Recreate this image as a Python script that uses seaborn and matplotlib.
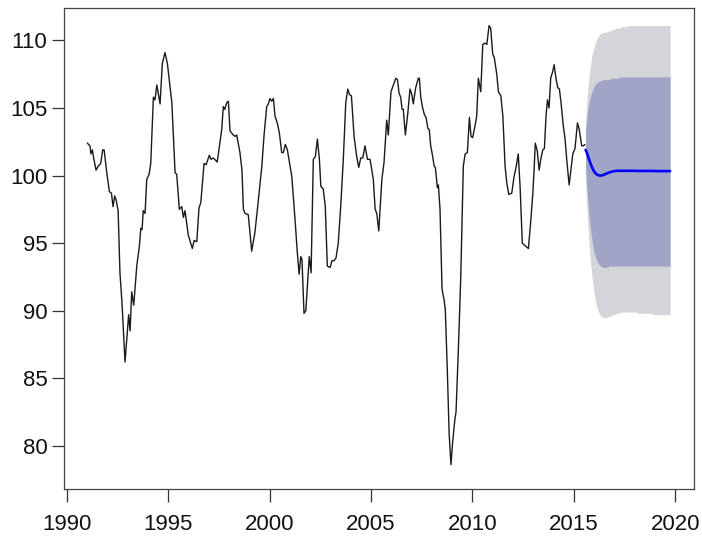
import matplotlib
matplotlib.use("Agg")
import matplotlib.pyplot as plt
import seaborn as sns
import numpy as np

# ---------------- data ----------------
hist_time = [
    1991.00, 1991.13, 1991.18, 1991.25, 1991.30, 1991.43, 1991.54, 1991.66, 1991.76, 1991.83,
    1991.96, 1992.09, 1992.19, 1992.27, 1992.35, 1992.42, 1992.52, 1992.61, 1992.71, 1992.86,
    1993.04, 1993.11, 1993.19, 1993.29, 1993.44, 1993.57, 1993.64, 1993.70, 1993.76, 1993.85,
    1993.93, 1994.05, 1994.13, 1994.26, 1994.34, 1994.43, 1994.59, 1994.70, 1994.83, 1994.95,
    1995.17, 1995.33, 1995.41, 1995.54, 1995.66, 1995.74, 1995.82, 1995.98, 1996.18, 1996.27,
    1996.40, 1996.51, 1996.60, 1996.76, 1996.86, 1997.02, 1997.10, 1997.22, 1997.41, 1997.55,
    1997.63, 1997.71, 1997.78, 1997.88, 1997.96, 1998.04, 1998.20, 1998.29, 1998.37, 1998.53,
    1998.63, 1998.70, 1998.78, 1998.94, 1999.11, 1999.27, 1999.44, 1999.61, 1999.72, 1999.85,
    1999.93, 2000.01, 2000.10, 2000.18, 2000.26, 2000.37, 2000.47, 2000.59, 2000.67, 2000.77,
    2000.87, 2001.00, 2001.09, 2001.25, 2001.36, 2001.45, 2001.53, 2001.59, 2001.69, 2001.78,
    2001.90, 2001.95, 2002.04, 2002.15, 2002.25, 2002.35, 2002.45, 2002.52, 2002.64, 2002.74,
    2002.84, 2002.98, 2003.07, 2003.17, 2003.27, 2003.38, 2003.50, 2003.63, 2003.75, 2003.85,
    2003.93, 2004.03, 2004.16, 2004.29, 2004.39, 2004.49, 2004.59, 2004.70, 2004.82, 2004.95,
    2005.11, 2005.20, 2005.28, 2005.38, 2005.53, 2005.64, 2005.77, 2005.85, 2005.98, 2006.10,
    2006.22, 2006.30, 2006.38, 2006.46, 2006.53, 2006.59, 2006.69, 2006.81, 2006.92, 2007.01,
    2007.08, 2007.20, 2007.33, 2007.38, 2007.45, 2007.53, 2007.63, 2007.71, 2007.80, 2007.87,
    2007.94, 2008.04, 2008.11, 2008.17, 2008.27, 2008.32, 2008.40, 2008.50, 2008.60, 2008.66,
    2008.76, 2008.85, 2008.94, 2009.03, 2009.13, 2009.19, 2009.30, 2009.42, 2009.55, 2009.64,
    2009.75, 2009.85, 2009.93, 2010.01, 2010.13, 2010.21, 2010.29, 2010.41, 2010.51, 2010.62,
    2010.71, 2010.82, 2010.90, 2011.00, 2011.08, 2011.20, 2011.28, 2011.40, 2011.50, 2011.61,
    2011.69, 2011.79, 2011.94, 2012.05, 2012.15, 2012.26, 2012.35, 2012.46, 2012.60, 2012.76,
    2012.88, 2012.98, 2013.05, 2013.10, 2013.20, 2013.29, 2013.37, 2013.47, 2013.55, 2013.63,
    2013.70, 2013.78, 2013.86, 2013.96, 2014.03, 2014.12, 2014.21, 2014.29, 2014.37, 2014.48,
    2014.57, 2014.65, 2014.77, 2014.85, 2014.95, 2015.06, 2015.18, 2015.27, 2015.39, 2015.47,
    2015.55,
]
hist_value = [
    102.4, 102.2, 101.6, 101.9, 101.4, 100.4, 100.7, 100.9, 101.9, 101.9,
    100.2, 98.8, 98.7, 97.7, 98.5, 98.2, 97.4, 92.8, 90.6, 86.2,
    89.7, 88.5, 91.4, 90.4, 93.3, 94.8, 96.1, 96.0, 97.4, 97.2,
    99.7, 100.1, 100.9, 105.8, 105.6, 106.7, 105.3, 108.3, 109.1, 108.3,
    105.4, 100.2, 100.1, 97.5, 97.7, 96.9, 97.4, 95.6, 94.6, 95.2,
    95.1, 97.6, 98.0, 100.9, 100.8, 101.5, 101.2, 101.3, 101.0, 102.5,
    103.4, 105.1, 104.9, 105.4, 105.5, 103.3, 103.0, 102.9, 103.0, 101.7,
    100.4, 97.5, 97.2, 97.1, 94.4, 95.8, 98.2, 100.7, 103.0, 105.1,
    105.3, 105.7, 105.5, 105.7, 104.4, 103.9, 103.2, 101.7, 101.7, 102.3,
    101.9, 100.7, 99.9, 96.7, 94.3, 92.7, 94.0, 93.8, 89.8, 90.0,
    92.8, 94.0, 92.8, 101.2, 101.4, 102.7, 101.2, 99.2, 99.0, 97.7,
    93.3, 93.2, 93.7, 93.7, 93.9, 95.0, 97.7, 101.2, 105.4, 106.4,
    106.0, 105.9, 102.9, 101.4, 100.6, 101.3, 101.3, 102.2, 101.2, 101.2,
    99.7, 97.5, 97.2, 95.9, 99.7, 101.0, 104.1, 103.0, 106.2, 106.7,
    107.2, 107.1, 106.1, 105.8, 104.9, 104.9, 103.0, 104.6, 106.4, 106.0,
    105.3, 106.5, 107.2, 107.2, 105.8, 105.1, 104.5, 104.3, 103.5, 103.4,
    102.2, 101.4, 100.7, 100.6, 99.1, 99.3, 97.5, 91.6, 90.8, 90.1,
    85.6, 80.9, 78.6, 80.4, 81.9, 82.5, 86.9, 92.3, 100.7, 101.6,
    101.7, 104.3, 102.9, 102.8, 103.7, 104.4, 107.2, 106.2, 109.7, 109.8,
    109.7, 111.1, 110.9, 109.0, 108.7, 107.5, 106.2, 105.9, 104.4, 100.7,
    99.5, 98.6, 98.7, 99.9, 100.6, 101.6, 99.2, 95.0, 94.8, 94.6,
    96.7, 98.7, 100.7, 102.4, 101.8, 100.4, 101.2, 101.9, 102.0, 104.4,
    105.6, 105.0, 107.2, 107.7, 108.2, 107.2, 106.5, 106.4, 105.4, 103.7,
    102.7, 101.2, 99.3, 100.3, 101.6, 102.0, 103.9, 103.4, 102.2, 102.2,
    102.3,
]

# forecast (monthly, starting Aug 2015)
fc_start = 2015 + 7 / 12
fc_mean = [
    101.9, 101.6, 101.2, 100.85, 100.55, 100.3, 100.15, 100.05, 100.0, 100.0,
    100.02, 100.07, 100.12, 100.18, 100.23, 100.27, 100.3, 100.32, 100.34, 100.35,
    100.35, 100.35, 100.35, 100.35, 100.35, 100.35, 100.35, 100.35, 100.35, 100.35,
    100.34, 100.34, 100.34, 100.34, 100.34, 100.34, 100.34, 100.34, 100.34, 100.34,
    100.34, 100.33, 100.33, 100.33, 100.33, 100.33, 100.33, 100.33, 100.33, 100.33,
    100.33,
]
fc_hi95 = [
    104.0, 106.0, 107.3, 108.3, 109.0, 109.5, 109.9, 110.2, 110.4, 110.5,
    110.6, 110.6, 110.6, 110.7, 110.7, 110.7, 110.8, 110.8, 110.9, 110.9,
    110.9, 111.0, 111.0, 111.0, 111.0, 111.1, 111.1, 111.1, 111.1, 111.1,
    111.1, 111.1, 111.1, 111.1, 111.1, 111.1, 111.1, 111.1, 111.1, 111.1,
    111.1, 111.1, 111.1, 111.1, 111.1, 111.1, 111.1, 111.1, 111.1, 111.1,
    111.1,
]
fc_lo95 = [
    99.5, 97.0, 95.0, 93.5, 92.3, 91.3, 90.6, 90.1, 89.8, 89.6,
    89.5, 89.5, 89.5, 89.5, 89.6, 89.6, 89.7, 89.7, 89.8, 89.8,
    89.8, 89.9, 89.9, 89.9, 89.9, 89.9, 89.9, 89.9, 89.9, 89.9,
    89.9, 89.8, 89.8, 89.8, 89.8, 89.8, 89.8, 89.8, 89.8, 89.8,
    89.7, 89.7, 89.7, 89.7, 89.7, 89.7, 89.7, 89.7, 89.7, 89.7,
    89.7,
]
fc_hi80 = [
    103.3, 104.6, 105.4, 105.9, 106.3, 106.6, 106.8, 106.9, 107.0, 107.0,
    107.1, 107.1, 107.1, 107.1, 107.1, 107.2, 107.2, 107.2, 107.2, 107.2,
    107.3, 107.3, 107.3, 107.3, 107.3, 107.3, 107.3, 107.3, 107.3, 107.3,
    107.3, 107.3, 107.3, 107.3, 107.3, 107.3, 107.3, 107.3, 107.3, 107.3,
    107.3, 107.3, 107.3, 107.3, 107.3, 107.3, 107.3, 107.3, 107.3, 107.3,
    107.3,
]
fc_lo80 = [
    100.5, 98.6, 97.0, 95.9, 95.0, 94.3, 93.9, 93.6, 93.4, 93.3,
    93.2, 93.2, 93.2, 93.2, 93.3, 93.3, 93.3, 93.3, 93.3, 93.3,
    93.3, 93.3, 93.3, 93.3, 93.3, 93.3, 93.3, 93.3, 93.3, 93.3,
    93.3, 93.3, 93.3, 93.3, 93.3, 93.3, 93.3, 93.3, 93.3, 93.3,
    93.3, 93.3, 93.3, 93.3, 93.3, 93.3, 93.3, 93.3, 93.3, 93.3,
    93.3,
]

x_ticks = [1990, 1995, 2000, 2005, 2010, 2015, 2020]
y_ticks = [80, 85, 90, 95, 100, 105, 110]

# ---------------- plot ----------------
sns.set_theme(style="ticks")
plt.rcParams['font.family'] = ['Liberation Sans', 'DejaVu Sans']

W, H = 702, 539
fig = plt.figure(figsize=(W / 100, H / 100), dpi=100)
fig.patch.set_facecolor('white')
ax = fig.add_axes([64 / W, 1 - 489 / H, (694 - 64) / W, (489 - 8) / H])
ax.set_facecolor('white')

fc_time = fc_start + np.arange(len(fc_mean)) / 12

ax.fill_between(fc_time, fc_lo95, fc_hi95, color='#D4D4DB', lw=0)
ax.fill_between(fc_time, fc_lo80, fc_hi80, color='#A0A4C6', lw=0)

sns.lineplot(x=hist_time, y=hist_value, color='#1a1a1a', lw=1.0,
             ax=ax, estimator=None, sort=False)
sns.lineplot(x=fc_time, y=fc_mean, color='#0000FF', lw=1.9,
             ax=ax, estimator=None, sort=False)

ax.set_xlim(1989.85, 2020.93)
ax.set_ylim(76.8, 112.4)
ax.set_xticks(x_ticks)
ax.set_yticks(y_ticks)
ax.set_xlabel('')
ax.set_ylabel('')
ax.tick_params(direction='out', length=9, width=0.9, labelsize=16,
               color='#333333', labelcolor='#111111')
ax.tick_params(axis='x', pad=9)
ax.tick_params(axis='y', pad=3)
for s in ax.spines.values():
    s.set_visible(True)
    s.set_color('#444444')
    s.set_linewidth(0.9)

fig.savefig('out.png', dpi=100, facecolor='white')
